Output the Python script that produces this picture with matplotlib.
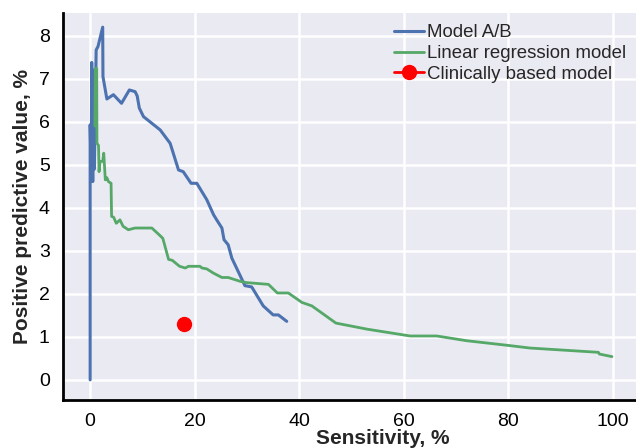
import matplotlib
matplotlib.use("Agg")
import matplotlib.pyplot as plt
import seaborn as sns

# Model A/B curve (sensitivity %, PPV %)
ab_sens = [0, 0, 0.2, 0.3, 0.5, 0.6, 0.8, 1.15, 1.5, 2.4, 2.45, 3.2, 4.45,
           6.0, 7.5, 8.6, 9.0, 9.4, 10.2, 13.4, 15.3, 16.9, 17.8, 19.3, 20.4,
           22.3, 23.6, 24.2, 25.2, 25.6, 26.4, 27.1, 29.6, 30.9, 33.1, 35.0,
           36.0, 37.6]
ab_ppv = [0, 5.93, 4.7, 7.38, 4.61, 7.2, 4.9, 7.67, 7.75, 8.2, 7.05, 6.53,
          6.63, 6.43, 6.74, 6.7, 6.6, 6.32, 6.12, 5.81, 5.5, 4.88, 4.84, 4.57,
          4.57, 4.19, 3.84, 3.72, 3.53, 3.26, 3.14, 2.83, 2.19, 2.16, 1.72,
          1.51, 1.51, 1.36]

# Linear regression model curve
lr_sens = [0.9, 1.0, 1.25, 1.3, 1.6, 1.7, 1.9, 2.4, 2.6, 2.9, 3.2, 3.5, 4.0,
           4.1, 4.5, 5.0, 5.7, 6.3, 7.3, 8.6, 10.8, 11.8, 13.4, 13.9, 15.0,
           15.7, 17.1, 18.2, 18.8, 21.0, 21.4, 22.3, 23.6, 25.2, 26.4, 28.7,
           30.0, 34.1, 35.8, 37.9, 40.5, 42.4, 47.0, 52.9, 61.2, 66.3, 72.0,
           80.0, 84.1, 97.2, 97.4, 99.8]
lr_ppv = [5.9, 7.24, 7.24, 5.5, 5.45, 4.84, 5.08, 5.08, 5.27, 4.65, 4.7,
          4.61, 4.57, 3.8, 3.78, 3.64, 3.72, 3.57, 3.49, 3.53, 3.53, 3.53,
          3.35, 3.29, 2.8, 2.78, 2.64, 2.6, 2.64, 2.64, 2.6, 2.58, 2.48, 2.38,
          2.38, 2.29, 2.26, 2.22, 2.02, 2.02, 1.80, 1.72, 1.32, 1.18, 1.02,
          1.02, 0.91, 0.80, 0.74, 0.64, 0.60, 0.54]

# Clinically based model (single point)
cb_sens = [18.0]
cb_ppv = [1.30]

sns.set_style("darkgrid")
plt.rcParams['font.family'] = ['Liberation Sans', 'DejaVu Sans']

fig = plt.figure(figsize=(6.36, 4.48), dpi=100)
ax = fig.add_axes([0.099, 0.107, 0.901, 0.865])

ax.plot(ab_sens, ab_ppv, color='#4C72B0', lw=2.2, label='Model A/B')
ax.plot(lr_sens, lr_ppv, color='#55A868', lw=2, label='Linear regression model')
ax.plot(cb_sens, cb_ppv, color='red', marker='o', markersize=10, lw=2,
        label='Clinically based model')

ax.set_xlim(-5.2, 104.4)
ax.set_ylim(-0.47, 8.54)
ax.set_xticks([0, 20, 40, 60, 80, 100])
ax.set_yticks(range(0, 9))
ax.tick_params(labelsize=14, colors='black', pad=6)
ax.grid(color='white', linewidth=1.8)

for side in ['top', 'right']:
    ax.spines[side].set_visible(False)
for side in ['left', 'bottom']:
    ax.spines[side].set_visible(True)
    ax.spines[side].set_color('black')
    ax.spines[side].set_linewidth(2)

ax.set_xlabel('Sensitivity, %', fontsize=15, fontweight='bold')
ax.xaxis.set_label_coords(0.558, -0.075)
ax.set_ylabel('Positive predictive value, %', fontsize=15, fontweight='bold')
ax.yaxis.set_label_coords(-0.054, 0.5)

ax.legend(loc='upper left', bbox_to_anchor=(387 / 636, 1 - 17 / 448),
          bbox_transform=fig.transFigure, frameon=False, fontsize=13.4,
          handlelength=1.6, handletextpad=0.16, labelspacing=0.2,
          borderaxespad=0)

fig.savefig('out.png', dpi=100)
